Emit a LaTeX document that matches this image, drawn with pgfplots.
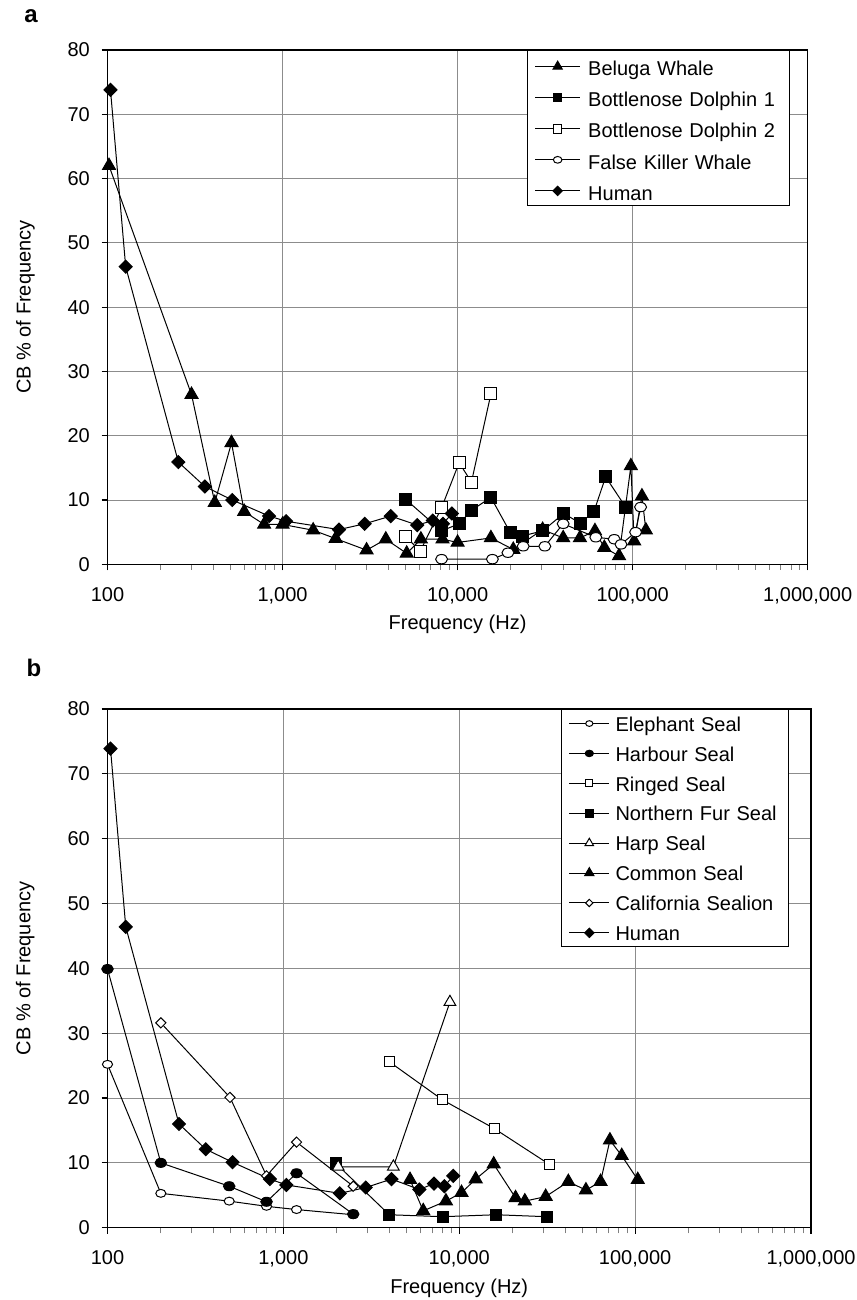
\documentclass[border=0pt]{standalone}
\usepackage{fontspec}
\setmainfont{Liberation Sans}
\usepackage{pgfplots}
\pgfplotsset{compat=1.18}
\definecolor{gridgray}{RGB}{140,140,140}
\tikzset{ser/.style={black, line width=0.5pt}}

\begin{document}
\begin{tikzpicture}[x=1pt,y=1pt]
\path[use as bounding box] (0,0) rectangle (428,-650);
\node[font=\bfseries\fontsize{12}{14}\selectfont] at (15.5,-8) {a};
\node[font=\bfseries\fontsize{12}{14}\selectfont] at (17,-334) {b};

% ---------------- panel a ----------------
\begin{axis}[
    scale only axis, xmode=log, xmin=100, xmax=1000000,
    ymin=0, ymax=80, ytick={0,10,...,80},
    xtick={100,1000,10000,100000,1000000},
    xticklabels={100,{1,000},{10,000},{100,000},{1,000,000}},
    minor xtick={}, minor ytick={},
    tick pos=left, tick align=outside, major tick length=3pt,
    grid=major, major grid style={draw=gridgray, line width=0.5pt},
    axis line style={line width=0.6pt},
    major tick style={black, line width=0.6pt},
    /pgf/number format/assume math mode=true,
    ticklabel style={font=\fontsize{10}{12}\selectfont},
    xticklabel style={yshift=-5pt},
    yticklabel style={xshift=-2.3pt},
    label style={font=\fontsize{10}{12}\selectfont},
    xlabel={Frequency (Hz)}, ylabel={CB \% of Frequency},
    x label style={at={(axis description cs:0.5,-0.1165)},anchor=center},
    y label style={at={(axis description cs:-0.117,0.5)},rotate=0,anchor=center},
    clip=false,
  at={(53.75pt,-282.15pt)}, anchor=south west,
  width=350.1pt, height=257.15pt,
  legend cell align=left,
  legend image code/.code={
    \path[draw=none,fill=none] (0pt,-5pt) rectangle (1pt,7pt);
    \draw[mark repeat=2,mark phase=2,#1, every mark/.append style={scale=0.72}] plot coordinates {(0pt,0pt) (11.325pt,0pt) (22.65pt,0pt)};
  },
  legend style={at={(axis description cs:0.5987,1)}, anchor=north west,
    draw=black, line width=0.5pt, fill=white,
    inner xsep=3.65pt, inner ysep=1pt, row sep=2.05pt, column sep=3.7pt,
    font=\fontsize{10}{12}\selectfont,
    nodes={inner xsep=0pt, inner ysep=0pt, text height=11.1pt, text depth=1.9pt, text width=97pt, align=left}},
]
\addplot[ser, mark=triangle*, mark size=3.75pt] coordinates {
(102,62.0) (302,26.4) (410,9.6) (511,18.9) (604,8.2) (785,6.2) (1000,6.2)
(1496,5.3) (2010,4.0) (3020,2.2) (3890,3.9) (5120,1.7) (6170,3.9) (8200,3.9)
(10000,3.4) (15500,4.1) (20800,2.3) (30600,5.4) (40100,4.1) (50000,4.1)
(60900,5.2) (68900,2.6) (83600,1.3) (97700,15.3) (102000,3.6) (113000,10.6) (119000,5.3)};
\addlegendentry{Beluga Whale}
\addplot[ser, mark=square*, mark size=3pt] coordinates {
(5050,10.1) (8100,5.2) (10200,6.3) (12000,8.4) (15500,10.4) (19950,5.0)
(23400,4.4) (30600,5.2) (40400,7.9) (50200,6.4) (60100,8.2) (70100,13.6) (91200,8.9)};
\addlegendentry{Bottlenose Dolphin 1}
\addplot[ser, mark=square*, mark size=3pt, mark options={fill=white}] coordinates {
(5050,4.4) (6100,2.0) (8100,8.8) (10200,15.8) (12000,12.8) (15500,26.5)};
\addlegendentry{Bottlenose Dolphin 2}
\addplot[ser, mark=*, mark size=2.6pt, mark options={fill=white, xscale=1.15, yscale=0.9}] coordinates {
(8100,0.8) (15800,0.8) (19400,1.8) (23700,2.8) (31500,2.8) (40100,6.3)
(61600,4.2) (78500,3.9) (85800,3.1) (104000,5.0) (111000,8.9)};
\addlegendentry{False Killer Whale}
\addplot[ser, mark=square*, mark size=2.3pt, mark options={rotate=45}] coordinates {
(104,73.8) (127,46.3) (254,15.9) (360,12.1) (516,10.0) (838,7.5) (1047,6.7)
(2100,5.4) (2945,6.3) (4150,7.5) (5880,6.1) (7220,6.8) (8250,6.3) (9280,7.9)};
\addlegendentry{Human}
\end{axis}

% ---------------- panel b ----------------
\begin{axis}[
    scale only axis, xmode=log, xmin=100, xmax=1000000,
    ymin=0, ymax=80, ytick={0,10,...,80},
    xtick={100,1000,10000,100000,1000000},
    xticklabels={100,{1,000},{10,000},{100,000},{1,000,000}},
    minor xtick={}, minor ytick={},
    tick pos=left, tick align=outside, major tick length=3pt,
    grid=major, major grid style={draw=gridgray, line width=0.5pt},
    axis line style={line width=0.6pt},
    major tick style={black, line width=0.6pt},
    /pgf/number format/assume math mode=true,
    ticklabel style={font=\fontsize{10}{12}\selectfont},
    xticklabel style={yshift=-5pt},
    yticklabel style={xshift=-2.3pt},
    label style={font=\fontsize{10}{12}\selectfont},
    xlabel={Frequency (Hz)}, ylabel={CB \% of Frequency},
    x label style={at={(axis description cs:0.5,-0.1165)},anchor=center},
    y label style={at={(axis description cs:-0.117,0.5)},rotate=0,anchor=center},
    clip=false,
  at={(53.75pt,-613.85pt)}, anchor=south west,
  width=351.75pt, height=259.35pt,
  legend cell align=left,
  legend image code/.code={
    \path[draw=none,fill=none] (0pt,-5pt) rectangle (1pt,5.5pt);
    \draw[mark repeat=2,mark phase=2,#1, every mark/.append style={scale=0.72}] plot coordinates {(0pt,0pt) (10pt,0pt) (20pt,0pt)};
  },
  legend style={at={(axis description cs:0.6442,1)}, anchor=north west,
    draw=black, line width=0.5pt, fill=white,
    inner xsep=3.8pt, inner ysep=1.5pt, row sep=4.0pt, column sep=2.85pt,
    font=\fontsize{10}{12}\selectfont,
    nodes={inner xsep=0pt, inner ysep=0pt, text height=9.3pt, text depth=1.6pt, text width=82.5pt, align=left}},
]
\addplot[ser, mark=*, mark size=2.2pt, mark options={fill=white, xscale=1.15, yscale=0.9}] coordinates {
(100,25.2) (201,5.3) (492,4.1) (802,3.3) (1188,2.8) (2495,2.0)};
\addlegendentry{Elephant Seal}
\addplot[ser, mark=*, mark size=2.5pt, mark options={xscale=1.15, yscale=0.9}] coordinates {
(100,39.9) (201,10.0) (492,6.4) (802,4.0) (1188,8.4) (2495,2.1)};
\addlegendentry{Harbour Seal}
\addplot[ser, mark=square*, mark size=2.5pt, mark options={fill=white}] coordinates {
(4000,25.6) (8050,19.7) (15800,15.3) (32400,9.8)};
\addlegendentry{Ringed Seal}
\addplot[ser, mark=square*, mark size=2.8pt] coordinates {
(1990,9.9) (4000,2.0) (8050,1.7) (16200,2.0) (31400,1.7)};
\addlegendentry{Northern Fur Seal}
\addplot[ser, mark=triangle*, mark size=3.4pt, mark options={fill=white}] coordinates {
(2050,9.4) (4220,9.4) (8850,34.8)};
\addlegendentry{Harp Seal}
\addplot[ser, mark=triangle*, mark size=3.75pt] coordinates {
(5250,7.4) (6240,2.6) (8400,4.1) (10300,5.4) (12400,7.5) (15700,9.8) (20900,4.6)
(23600,4.1) (31000,4.8) (41700,7.1) (52500,5.8) (63600,7.1) (71900,13.5) (83900,11.1) (103500,7.4)};
\addlegendentry{Common Seal}
\addplot[ser, mark=square*, mark size=1.8pt, mark options={fill=white, rotate=45}] coordinates {
(201,31.6) (497,20.1) (802,8.0) (1188,13.2) (2495,6.4)};
\addlegendentry{California Sealion}
\addplot[ser, mark=square*, mark size=2.3pt, mark options={rotate=45}] coordinates {
(104,73.9) (127,46.4) (255,16.0) (362,12.1) (514,10.1) (838,7.5) (1040,6.6)
(2094,5.3) (2940,6.2) (4120,7.5) (5930,5.9) (7180,6.8) (8230,6.4) (9250,8.0)};
\addlegendentry{Human}
\end{axis}
\end{tikzpicture}
\end{document}
